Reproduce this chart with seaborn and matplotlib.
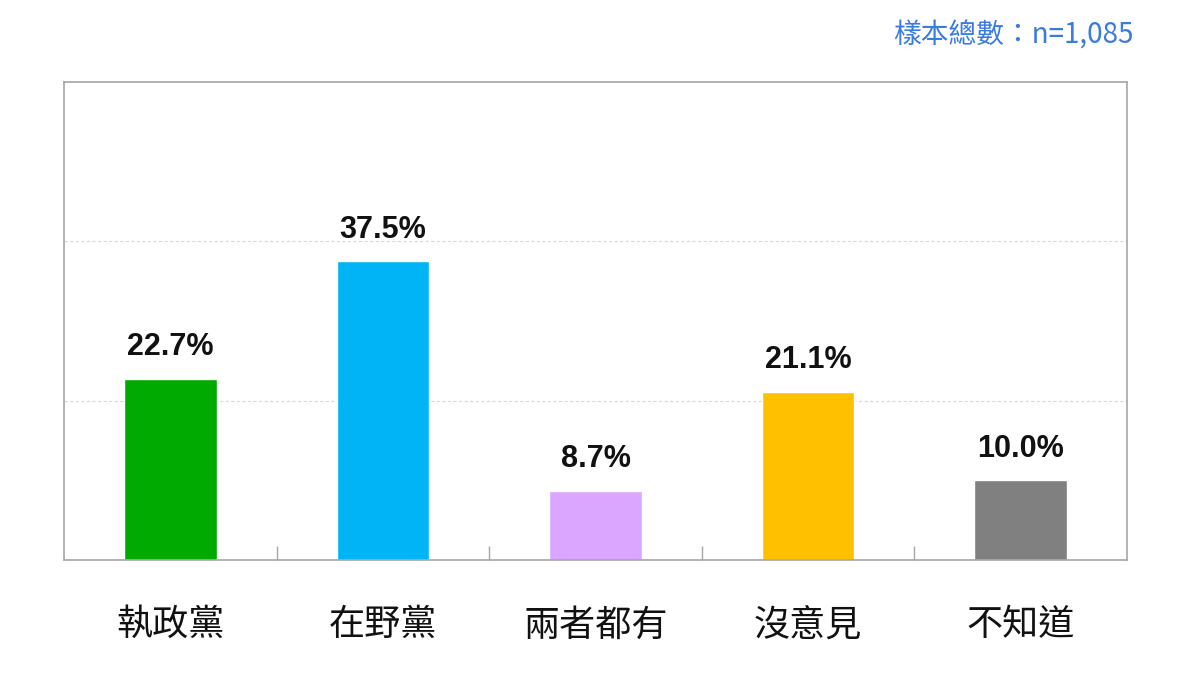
import matplotlib
matplotlib.use('Agg')
import matplotlib.pyplot as plt
import seaborn as sns
import pandas as pd

# data
categories = ['執政黨', '在野黨', '兩者都有', '沒意見', '不知道']
values = [22.7, 37.5, 8.7, 21.1, 10.0]
bar_colors = ['#00AA00', '#00B4F5', '#DAA6FF', '#FFC000', '#808080']
sample_note = '樣本總數：n=1,085'

df = pd.DataFrame({'category': categories, 'pct': values})

sns.set_style('white')
plt.rcParams['font.family'] = ['Liberation Sans', 'Noto Sans CJK TC', 'DejaVu Sans']

fig = plt.figure(figsize=(12, 6.75), dpi=100)
ax = fig.add_axes([64 / 1200, 1 - 560 / 675, 1063 / 1200, 478 / 675])

sns.barplot(data=df, x='category', y='pct', hue='category', palette=bar_colors,
            legend=False, width=0.435, saturation=1, ax=ax)

ax.set_ylim(0, 60)
ax.set_xlim(-0.5, len(categories) - 0.5)
ax.set_yticks([20, 40])
ax.set_yticklabels([])
ax.tick_params(axis='y', length=0)
ax.grid(axis='y', color='#D9D9D9', linestyle=(0, (3, 2)), linewidth=0.8)
ax.set_axisbelow(True)

for s in ax.spines.values():
    s.set_color('#A6A6A6')
    s.set_linewidth(1.2)

ax.set_xlabel('')
ax.set_ylabel('')
ax.set_xticks(range(len(categories)))
ax.set_xticklabels(categories, fontsize=26, family=['Noto Sans CJK TC'],
                   fontweight='medium', color='#111111')
ax.tick_params(axis='x', which='major', length=0, pad=34)
ax.set_xticks([i + 0.5 for i in range(len(categories) - 1)], minor=True)
ax.tick_params(axis='x', which='minor', bottom=True, direction='in', length=10,
               width=1, color='#A6A6A6')

for i, v in enumerate(values):
    ax.annotate(f'{v:.1f}%', (i, v), xytext=(0, 12), textcoords='offset points',
                ha='center', va='bottom', fontsize=22, fontweight='bold', color='#111111')

fig.text(1133 / 1200, 1 - 36 / 675, sample_note, ha='right', va='center', fontsize=20,
         color='#3A7BE0', family=['Noto Sans CJK TC', 'DejaVu Sans'])

fig.savefig('out.png', dpi=100)
